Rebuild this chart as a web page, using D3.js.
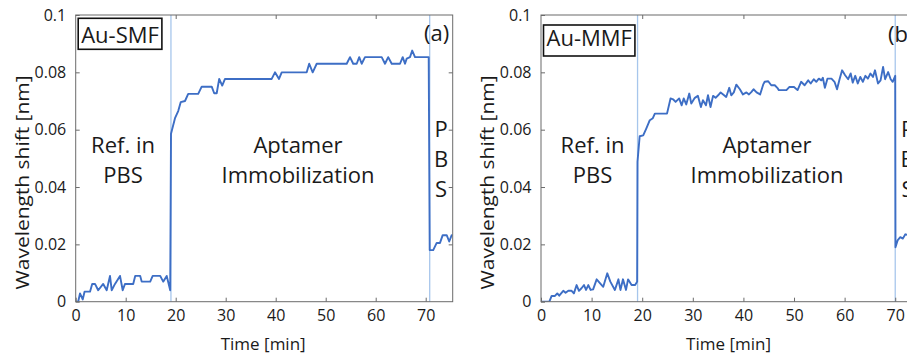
<!DOCTYPE html>
<html>
<head>
<meta charset="utf-8">
<script src="https://cdn.jsdelivr.net/npm/d3@7/dist/d3.min.js"></script>
<style>
  html, body { margin: 0; padding: 0; background: #fff; }
  svg { display: block; overflow: hidden; }
  text { font-family: "Open Sans", "Noto Sans", sans-serif; fill: #1a1a1a; }
</style>
</head>
<body>
<svg id="chart" width="907" height="354"></svg>
<script>
// ---------------- data ----------------
const timeTicks = [0, 10, 20, 30, 40, 50, 60, 70];
const timeTickLabels = ["0", "10", "20", "30", "40", "50", "60", "70"];
const topTicks = [20, 40, 60];
const shiftTicks = [0, 0.02, 0.04, 0.06, 0.08, 0.1];
const shiftTickLabels = ["0", "0.02", "0.04", "0.06", "0.08", "0.1"];

const panelNames = ["Au-SMF", "Au-MMF"];
const panelLetters = ["(a)", "(b)"];
const xAxisTitle = "Time [min]";
const yAxisTitle = "Wavelength shift [nm]";
const phaseRef = ["Ref. in", "PBS"];
const phaseApt = ["Aptamer", "Immobilization"];
const phasePbs = ["P", "B", "S"];

// Au-SMF (a)
const smfTime = [0, 0.5, 0.86, 1.4, 1.77, 2.86, 3.3, 3.86, 4.5, 5.5, 6.2, 6.86, 7.2, 7.86, 8.86, 9.4, 9.86,
  11.5, 11.9, 12.9, 13.2, 14.9, 15.4, 16.9, 17.5, 18.2, 18.9,
  19.06, 19.86, 20.5, 21.0, 21.86, 22.5, 24.5, 25.2, 27.2, 27.7, 28.2, 28.7, 29.3, 29.86, 39.2, 39.86, 40.66,
  41.2, 46.2, 46.7, 47.4, 48.2, 54.2, 54.86, 55.5, 56.2, 56.7, 57.2, 57.86, 61.2, 61.86, 62.5, 63.2,
  64.86, 65.4, 65.86, 66.2, 66.86, 67.3, 67.86, 70.6,
  70.8, 71.5, 72.2, 72.86, 73.4, 74.2, 74.7, 75.2, 75.4];
const smfShift = [0, 0, 0.0029, 0.0008, 0.0035, 0.0035, 0.0062, 0.0062, 0.004, 0.0062, 0.004, 0.009, 0.004, 0.0062, 0.009, 0.004, 0.0062,
  0.0062, 0.009, 0.009, 0.007, 0.007, 0.009, 0.009, 0.007, 0.009, 0.004,
  0.0586, 0.064, 0.0665, 0.0696, 0.070, 0.0725, 0.0725, 0.075, 0.075, 0.0727, 0.0727, 0.0777, 0.0754, 0.0777, 0.0777, 0.080, 0.0777,
  0.080, 0.080, 0.083, 0.080, 0.083, 0.083, 0.0853, 0.083, 0.083, 0.0853, 0.083, 0.0853, 0.0853, 0.083, 0.0853, 0.083,
  0.083, 0.0853, 0.083, 0.0848, 0.0853, 0.0876, 0.0853, 0.0853,
  0.018, 0.018, 0.0205, 0.0205, 0.0232, 0.0232, 0.021, 0.0232, 0.0232];

// Au-MMF (b)
const mmfTime = [0, 1.65, 2.1, 2.76, 3.22, 3.6, 4.4, 4.86, 5.4, 6.05, 6.5, 7.04, 7.5, 8.0, 8.5, 8.9, 9.35, 9.8,
  10.3, 11.0, 11.6, 12.3, 13.1, 13.7, 14.6, 15.3, 15.7, 16.2, 16.8, 17.2, 17.9, 18.6, 19.0,
  19.07, 19.5, 20.2, 20.8, 21.5, 22.1, 22.5, 24.9, 25.6, 26.1, 26.6, 27.3, 27.8, 28.2, 28.7, 29.3, 29.7,
  30.4, 31.0, 31.6, 32.0, 32.6, 33.0, 33.5, 34.0, 34.5, 35.0, 35.5, 36.0, 36.6, 37.2, 37.6, 38.1, 38.6,
  39.3, 39.9, 40.6, 41.1, 41.6, 42.0, 42.6, 43.3, 43.9, 44.2, 44.9, 45.5, 46.2, 46.7, 47.0, 48.5, 49.1,
  50.0, 50.7, 51.4, 52.1, 52.8, 53.3, 53.9, 54.4, 54.9, 55.4, 55.7, 56.1, 56.6, 57.4, 58.0, 58.5, 59.0,
  59.5, 60.1, 60.7, 61.2, 61.6, 62.1, 62.6, 63.1, 63.6, 64.1, 64.6, 65.1, 65.6, 66.0, 66.6, 67.1, 67.6,
  68.0, 68.6, 69.1, 69.5, 70.0,
  70.05, 70.5, 71.0, 71.5, 72.0, 72.6, 73.2, 73.8, 74.5];
const mmfShift = [0, 0, 0.002, 0.002, 0.0029, 0.0021, 0.0038, 0.0031, 0.0038, 0.0038, 0.0029, 0.0058, 0.0038, 0.0047, 0.0058, 0.0041, 0.0058, 0.0041,
  0.0043, 0.0078, 0.0066, 0.0052, 0.0099, 0.0070, 0.0041, 0.0078, 0.0041, 0.0078, 0.0041, 0.0078, 0.0058, 0.0058, 0.0070,
  0.0488, 0.0577, 0.0580, 0.0604, 0.0633, 0.0640, 0.0656, 0.0656, 0.0709, 0.0706, 0.0697, 0.0709, 0.0685, 0.0709, 0.0688, 0.0726, 0.0691,
  0.0711, 0.0718, 0.0679, 0.0703, 0.0685, 0.0720, 0.0679, 0.0718, 0.0711, 0.0720, 0.0730, 0.0723, 0.0714, 0.0746, 0.0720, 0.0730, 0.0757,
  0.0741, 0.0723, 0.0730, 0.0723, 0.0732, 0.0741, 0.0730, 0.0723, 0.0757, 0.0767, 0.0769, 0.0755, 0.0755, 0.0746, 0.0738, 0.0738, 0.0749,
  0.0749, 0.0738, 0.0767, 0.0755, 0.0772, 0.0761, 0.0776, 0.0767, 0.0778, 0.0772, 0.0781, 0.0746, 0.0778, 0.0778, 0.0767, 0.0741, 0.0776,
  0.0807, 0.0790, 0.0776, 0.0796, 0.0764, 0.0788, 0.0761, 0.0784, 0.0767, 0.0788, 0.0778, 0.0796, 0.0784, 0.0807, 0.0761, 0.0772, 0.0819,
  0.0776, 0.0801, 0.0776, 0.0767, 0.0788,
  0.019, 0.0215, 0.0225, 0.022, 0.0235, 0.0232, 0.024, 0.0236, 0.024];

const smfMarkers = [19.05, 70.8];
const mmfMarkers = [19.08, 70.0];

// ---------------- drawing ----------------
const svg = d3.select("#chart");
const lineColor = "#3d6ec5";
const markerColor = "#a7c6ec";
const axisColor = "#6b6b6b";

const panels = [
  { name: panelNames[0], letter: panelLetters[0], time: smfTime, shift: smfShift, markers: smfMarkers,
    left: 75.7, right: 452.7, xmax: 75.4, boxY: 18.3, boxBase: 43.3, letterBase: 41,
    refX: 123, aptX: 298, pbsX: 441, ylabX: 22.5 },
  { name: panelNames[1], letter: panelLetters[1], time: mmfTime, shift: mmfShift, markers: mmfMarkers,
    left: 541, right: 918, xmax: 74.5, boxY: 25, boxBase: 45.5, letterBase: 42,
    refX: 592.5, aptX: 767, pbsX: 907.5, ylabX: 488 }
];
const plotTop = 15, plotBottom = 301.7;

panels.forEach((p, i) => {
  const x = d3.scaleLinear().domain([0, p.xmax]).range([p.left, p.right]);
  const y = d3.scaleLinear().domain([0, 0.1]).range([plotBottom, plotTop]);
  const g = svg.append("g");

  const clipId = "clip" + i;
  svg.append("clipPath").attr("id", clipId).append("rect")
    .attr("x", p.left).attr("y", plotTop).attr("width", p.right - p.left).attr("height", plotBottom - plotTop);

  // marker lines
  g.append("g").selectAll("line").data(p.markers).join("line")
    .attr("x1", d => x(d)).attr("x2", d => x(d))
    .attr("y1", y(0)).attr("y2", y(0.1))
    .attr("stroke", markerColor).attr("stroke-width", 1.3);

  // data line
  const pts = p.time.map((t, k) => [t, p.shift[k]]);
  g.append("path").datum(pts)
    .attr("clip-path", `url(#${clipId})`)
    .attr("d", d3.line().x(d => x(d[0])).y(d => y(d[1])))
    .attr("fill", "none").attr("stroke", lineColor).attr("stroke-width", 1.9)
    .attr("stroke-linejoin", "round");

  // box frame
  g.append("rect").attr("x", p.left).attr("y", plotTop)
    .attr("width", p.right - p.left).attr("height", plotBottom - plotTop)
    .attr("fill", "none").attr("stroke", axisColor).attr("stroke-width", 1);

  // axes
  const xAxis = d3.axisBottom(x).tickValues(timeTicks)
    .tickFormat((d, k) => timeTickLabels[k]).tickSizeInner(-4).tickSizeOuter(0).tickPadding(8);
  const gx = g.append("g").attr("transform", `translate(0,${plotBottom})`).call(xAxis);
  const yAxis = d3.axisLeft(y).tickValues(shiftTicks)
    .tickFormat((d, k) => shiftTickLabels[k]).tickSizeInner(-4).tickSizeOuter(0).tickPadding(9.5);
  const gy = g.append("g").attr("transform", `translate(${p.left},0)`).call(yAxis);
  const xTop = d3.axisTop(x).tickValues(topTicks).tickFormat("").tickSizeInner(-4).tickSizeOuter(0);
  const gt = g.append("g").attr("transform", `translate(0,${plotTop})`).call(xTop);
  const yRight = d3.axisRight(y).tickValues(shiftTicks.slice(1, 5)).tickFormat("").tickSizeInner(-4).tickSizeOuter(0);
  const gr = g.append("g").attr("transform", `translate(${p.right},0)`).call(yRight);
  [gx, gy, gt, gr].forEach(a => {
    a.select(".domain").remove();
    a.selectAll(".tick line").attr("stroke", axisColor);
    a.selectAll(".tick text").attr("font-size", 16).attr("fill", "#222")
      .attr("font-family", "'Open Sans', sans-serif");
  });

  // axis titles
  g.append("text").attr("x", (p.left + p.right) / 2 - 1).attr("y", 350)
    .attr("text-anchor", "middle").attr("font-size", 17).text(xAxisTitle);
  g.append("text").attr("transform", `translate(${p.ylabX + 6},182.5) rotate(-90)`)
    .attr("text-anchor", "middle").attr("font-size", 18)
    .attr("textLength", 214).attr("lengthAdjust", "spacingAndGlyphs").text(yAxisTitle);

  // name box
  const nameRect = g.append("rect");
  const nameText = g.append("text").attr("x", p.left + 5.5).attr("y", p.boxBase)
    .attr("font-size", 22).text(p.name);
  const bb = nameText.node().getBBox();
  nameRect.attr("x", bb.x - 3).attr("y", p.boxY)
    .attr("width", bb.width + 6).attr("height", 31)
    .attr("fill", "#fff").attr("stroke", "#111").attr("stroke-width", 1.6);

  // panel letter
  g.append("text").attr("x", p.right - 3.5).attr("y", p.letterBase)
    .attr("text-anchor", "end").attr("font-size", 22).text(p.letter);

  // phase labels
  g.append("text").attr("x", p.refX).attr("y", 153.3).attr("text-anchor", "middle")
    .attr("font-size", 22).text(phaseRef[0]);
  g.append("text").attr("x", p.refX).attr("y", 182.5).attr("text-anchor", "middle")
    .attr("font-size", 22).text(phaseRef[1]);
  g.append("text").attr("x", p.aptX).attr("y", 153.3).attr("text-anchor", "middle")
    .attr("font-size", 22).text(phaseApt[0]);
  g.append("text").attr("x", p.aptX).attr("y", 182.5).attr("text-anchor", "middle")
    .attr("font-size", 22).text(phaseApt[1]);
  phasePbs.forEach((c, k) => {
    g.append("text").attr("x", p.pbsX).attr("y", 137 + k * 30).attr("text-anchor", "middle")
      .attr("font-size", 22).text(c);
  });
});
</script>
</body>
</html>
